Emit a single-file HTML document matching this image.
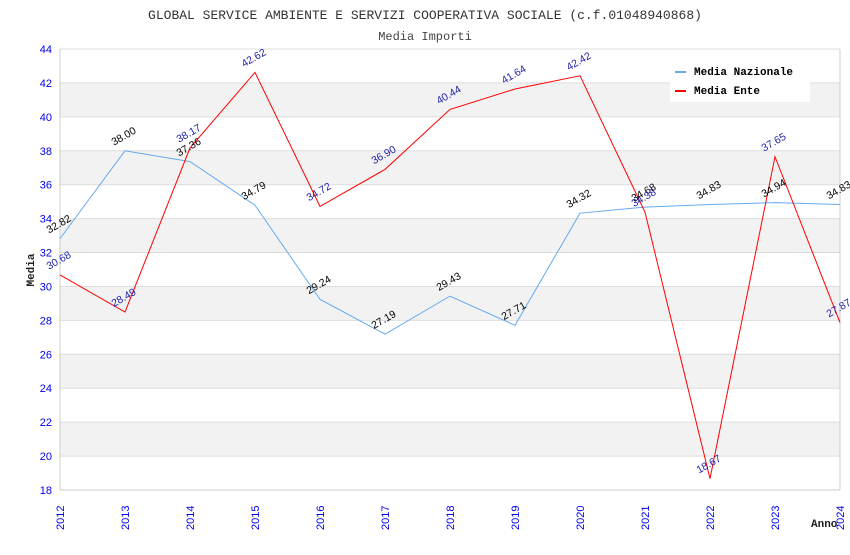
<!DOCTYPE html>
<html><head><meta charset="utf-8"><style>
body{margin:0;background:#fff}
svg text{font-family:"Liberation Sans",sans-serif}
.mono{font-family:"Liberation Mono","DejaVu Sans Mono",monospace}
</style></head><body>
<svg id="c" width="850" height="550" xmlns="http://www.w3.org/2000/svg">
<text class="mono" x="425" y="19" text-anchor="middle" font-size="13" fill="#333">GLOBAL SERVICE AMBIENTE E SERVIZI COOPERATIVA SOCIALE (c.f.01048940868)</text>
<text class="mono" x="425" y="40" text-anchor="middle" font-size="12" fill="#444">Media Importi</text>
<g id="grid"></g><g id="series"></g><g id="labels"></g>
<text class="mono" x="34" y="270" transform="rotate(-90 34 270)" text-anchor="middle" font-size="11" font-weight="bold" fill="#222">Media</text>
<text class="mono" x="811" y="527" font-size="11" font-weight="bold" fill="#222">Anno</text>
<g>
<rect x="670" y="60" width="140" height="42" fill="#fff"/>
<g><rect x="675" y="71" width="11" height="2" fill="#66aaee"/><text class="mono" x="694" y="75" font-size="11" font-weight="bold" fill="#000">Media Nazionale</text></g>
<g><rect x="675" y="90" width="11" height="2" fill="#ff0000"/><text class="mono" x="694" y="94" font-size="11" font-weight="bold" fill="#000">Media Ente</text></g>
</g>
</svg>
<script>
const years=["2012","2013","2014","2015","2016","2017","2018","2019","2020","2021","2022","2023","2024"];
const nazionale=[32.82,38.00,37.36,34.79,29.24,27.19,29.43,27.71,34.32,34.68,34.83,34.94,34.83];
const ente=[30.68,28.49,38.17,42.62,34.72,36.90,40.44,41.64,42.42,34.38,18.67,37.65,27.87];
const yTicks=[18,20,22,24,26,28,30,32,34,36,38,40,42,44];
const NS="http://www.w3.org/2000/svg";
const L=60,R=840,T=49,B=490,ymin=18,ymax=44;
const x=i=>L+i*(R-L)/(years.length-1);
const y=v=>B-(v-ymin)/(ymax-ymin)*(B-T);
function mk(t,a,p){const e=document.createElementNS(NS,t);for(const k in a)e.setAttribute(k,a[k]);p.appendChild(e);return e;}
const g=document.getElementById('grid');
for(let i=0;i<yTicks.length-1;i++){
 if(yTicks[i]%4===0){const r=mk('rect',{x:L,y:y(yTicks[i+1]),width:R-L,height:y(yTicks[i])-y(yTicks[i+1]),fill:'#f2f2f2'},g);
 
 }
}
yTicks.forEach(v=>{
 const l=mk('line',{x1:L,x2:R,y1:y(v),y2:y(v),stroke:'#dddddd'},g);
 
 
 const t=mk('text',{x:L-8,y:y(v)+4,'text-anchor':'end','font-size':11,fill:'#0000ee'},g);t.textContent=v;
 
 
});
mk('line',{x1:L,x2:L,y1:T,y2:B,stroke:'#ccc'},g);
mk('line',{x1:R,x2:R,y1:T,y2:B,stroke:'#ccc'},g);
mk('line',{x1:L,x2:R,y1:B,y2:B,stroke:'#ccc'},g);
years.forEach((yr,i)=>{
 const t=mk('text',{x:x(i)+4,y:B+40,transform:`rotate(-90 ${x(i)+4} ${B+40})`,'font-size':11,fill:'#0000ee'},g);t.textContent=yr;
 
 
});
const s=document.getElementById('series'),lb=document.getElementById('labels');
function draw(data,col,lcol,name){
 const p=mk('polyline',{points:data.map((v,i)=>x(i)+','+y(v)).join(' '),fill:'none',stroke:col,'stroke-width':1},s);
 
 
 data.forEach((v,i)=>{
  const px=x(i)-11,py=y(v)-5;
  const t=mk('text',{x:px,y:py,transform:`rotate(-30 ${px} ${py})`,'font-size':10.5,fill:lcol},lb);
  t.textContent=v.toFixed(2);
  
  
 });
}
draw(nazionale,'#66aaee','#000','nazionale');
draw(ente,'#ff0000','#2222aa','ente');
</script>
</body></html>
